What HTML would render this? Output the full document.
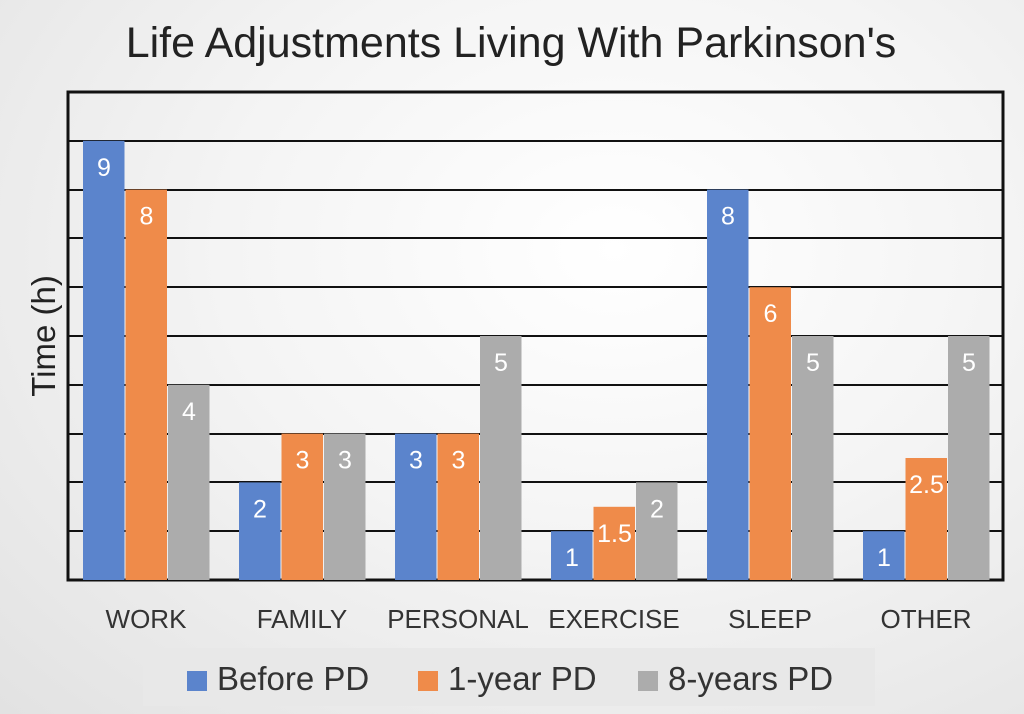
<!DOCTYPE html>
<html><head><meta charset="utf-8"><style>
html,body{margin:0;padding:0;width:1024px;height:714px;overflow:hidden}
body{background:radial-gradient(ellipse at 60% 35%,#ffffff 0%,#f4f4f4 45%,#e2e2e2 100%);font-family:"Liberation Sans",sans-serif}
</style></head><body>
<svg width="1024" height="714" xmlns="http://www.w3.org/2000/svg" font-family="Liberation Sans, sans-serif">
<text x="511" y="57" text-anchor="middle" font-size="43" fill="#222">Life Adjustments Living With Parkinson's</text>
<text transform="translate(55,336) rotate(-90)" text-anchor="middle" font-size="33" fill="#222">Time (h)</text>
<g stroke="#111" stroke-width="2">
<line x1="68" y1="141" x2="1003" y2="141"/><line x1="68" y1="190" x2="1003" y2="190"/>
<line x1="68" y1="238" x2="1003" y2="238"/><line x1="68" y1="287" x2="1003" y2="287"/>
<line x1="68" y1="336" x2="1003" y2="336"/><line x1="68" y1="385" x2="1003" y2="385"/>
<line x1="68" y1="434" x2="1003" y2="434"/><line x1="68" y1="482" x2="1003" y2="482"/>
<line x1="68" y1="531" x2="1003" y2="531"/>
</g>
<rect x="68" y="92" width="935" height="488" fill="none" stroke="#111" stroke-width="3"/>
<g id="bars"></g>
<rect x="143" y="648" width="732" height="58" fill="#e8e8e8"/>
<rect x="187" y="671" width="20" height="20" fill="#5b84cc"/>
<text x="217" y="690" font-size="33" fill="#333">Before PD</text>
<rect x="418" y="671" width="20" height="20" fill="#ef8b4a"/>
<text x="448" y="690" font-size="33" fill="#333">1-year PD</text>
<rect x="638" y="671" width="20" height="20" fill="#acacac"/>
<text x="668" y="690" font-size="33" fill="#333">8-years PD</text>
</svg>
<script>
var d=[["WORK",9,8,4],["FAMILY",2,3,3],["PERSONAL",3,3,5],["EXERCISE",1,1.5,2],["SLEEP",8,6,5],["OTHER",1,2.5,5]];
var c=["#5b84cc","#ef8b4a","#acacac"],u=48.8,b=580,s="";
d.forEach(function(g,i){var gx=83+i*156;
 for(var k=0;k<3;k++){var v=g[k+1],x=gx+k*42.5,h=v*u,y=b-h;
  s+='<rect x="'+x+'" y="'+y+'" width="41.5" height="'+h+'" fill="'+c[k]+'"/>';
  s+='<text x="'+(x+21)+'" y="'+(y+35)+'" text-anchor="middle" font-size="25" fill="#fff">'+v+'</text>';}
 s+='<text x="'+(gx+63)+'" y="628" text-anchor="middle" font-size="26" fill="#333">'+g[0]+'</text>';});
document.getElementById("bars").innerHTML=s;
</script>
</body></html>
